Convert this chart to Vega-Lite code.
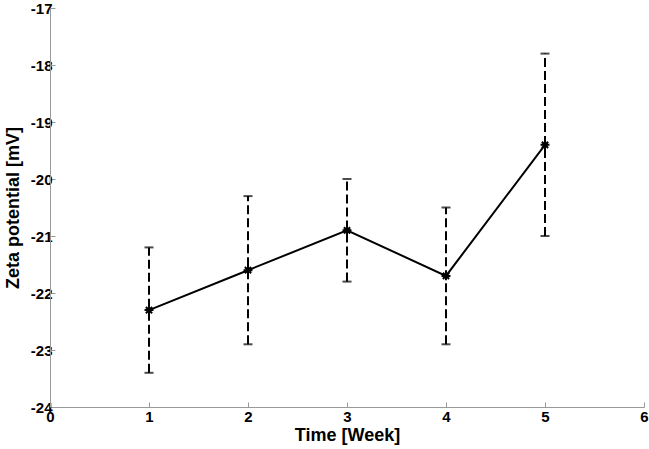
{
  "$schema": "https://vega.github.io/schema/vega-lite/v6.json",
  "width": 594,
  "height": 399,
  "autosize": {"type": "none"},
  "padding": {"left": 50, "top": 8, "right": 5, "bottom": 42},
  "background": "white",
  "config": {
    "view": {"stroke": null},
    "axis": {
      "grid": false,
      "domainColor": "#999999",
      "tickColor": "#999999",
      "tickSize": -5,
      "labelFont": "Liberation Sans",
      "labelFontWeight": "bold",
      "labelFontSize": 15,
      "labelColor": "black",
      "titleFont": "Liberation Sans",
      "titleFontWeight": "bold",
      "titleFontSize": 18,
      "titleColor": "black"
    }
  },
  "data": {
    "values": [
      {"week": 1, "zeta": -22.3, "lo": -23.4, "hi": -21.2},
      {"week": 2, "zeta": -21.6, "lo": -22.9, "hi": -20.3},
      {"week": 3, "zeta": -20.9, "lo": -21.8, "hi": -20.0},
      {"week": 4, "zeta": -21.7, "lo": -22.9, "hi": -20.5},
      {"week": 5, "zeta": -19.4, "lo": -21.0, "hi": -17.8}
    ]
  },
  "encoding": {
    "x": {
      "field": "week", "type": "quantitative",
      "scale": {"domain": [0, 6], "nice": false},
      "axis": {"values": [0, 1, 2, 3, 4, 5, 6], "format": "d", "title": "Time [Week]", "labelPadding": 7, "titlePadding": 2, "labelFlush": false}
    }
  },
  "layer": [
    {
      "mark": {"type": "rule", "color": "black", "strokeWidth": 2, "strokeDash": [9, 4]},
      "encoding": {
        "y": {"field": "lo", "type": "quantitative",
          "scale": {"domain": [-24, -17], "nice": false, "zero": false},
          "axis": {"values": [-24, -23, -22, -21, -20, -19, -18, -17], "labelExpr": "'' + datum.value", "title": "Zeta potential [mV]", "labelPadding": 3, "titlePadding": 8, "labelFlush": false}},
        "y2": {"field": "hi"}
      }
    },
    {
      "mark": {"type": "tick", "color": "black", "orient": "horizontal", "size": 9, "thickness": 2},
      "encoding": {"y": {"field": "lo", "type": "quantitative"}}
    },
    {
      "mark": {"type": "tick", "color": "black", "orient": "horizontal", "size": 9, "thickness": 2},
      "encoding": {"y": {"field": "hi", "type": "quantitative"}}
    },
    {
      "mark": {"type": "line", "color": "black", "strokeWidth": 2},
      "encoding": {"y": {"field": "zeta", "type": "quantitative"}}
    },
    {
      "mark": {"type": "point", "filled": false, "color": "black", "strokeWidth": 2, "size": 80, "opacity": 1,
        "shape": "M-1,0L1,0M0,-1L0,1M-0.7,-0.7L0.7,0.7M-0.7,0.7L0.7,-0.7"},
      "encoding": {"y": {"field": "zeta", "type": "quantitative"}}
    }
  ]
}
